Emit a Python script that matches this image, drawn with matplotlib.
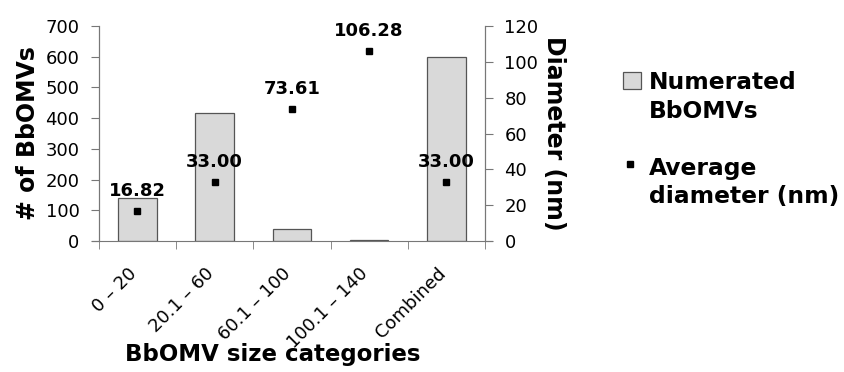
import matplotlib.pyplot as plt
import numpy as np
import matplotlib.transforms as mtransforms
from matplotlib.patches import Rectangle
from matplotlib.lines import Line2D
from matplotlib.ticker import FixedLocator, NullFormatter

categories = ['0 – 20', '20.1 – 60', '60.1 – 100', '100.1 – 140', 'Combined']
counts = [140, 418, 38, 2, 600]
diameters = [16.82, 33.00, 73.61, 106.28, 33.00]

bar_color = '#d9d9d9'
edge_color = '#555555'
axis_color = '#777777'

plt.rcParams['font.family'] = 'DejaVu Sans'

W, H = 845, 372
fig = plt.figure(figsize=(W / 100, H / 100), dpi=100)
ax = fig.add_axes([0.117, 0.352, 0.457, 0.578])
ax2 = ax.twinx()

x = np.arange(len(categories))
ax.bar(x, counts, width=0.5, color=bar_color, edgecolor=edge_color, linewidth=0.9, zorder=2)
ax.set_xlim(-0.5, len(categories) - 0.5)
ax.set_ylim(0, 700)
ax.set_yticks(range(0, 701, 100))

ax2.plot(x, diameters, 's', color='black', markersize=4)
ax2.set_ylim(0, 120)
ax2.set_yticks(range(0, 121, 20))
for xi, d in zip(x, diameters):
    ax2.annotate(f'{d:.2f}', (xi, d), textcoords='offset points', xytext=(0, 8),
                 ha='center', va='bottom', fontsize=13, fontweight='bold')

# category ticks: labels at centers, tick marks at boundaries
ax.set_xticks(x)
ax.set_xticklabels(categories, rotation=45, ha='right', va='top', rotation_mode='anchor', fontsize=13)
ax.tick_params(axis='x', which='major', length=0, pad=14)
shift = mtransforms.ScaledTranslation(-0.10, -0.04, fig.dpi_scale_trans)
for lbl in ax.get_xticklabels():
    lbl.set_transform(lbl.get_transform() + shift)
ax.xaxis.set_minor_locator(FixedLocator(np.arange(-0.5, len(categories), 1.0)))
ax.xaxis.set_minor_formatter(NullFormatter())
ax.tick_params(axis='x', which='minor', length=6, color=axis_color, direction='out')

for a in (ax, ax2):
    a.spines['top'].set_visible(False)
    for s in ('left', 'right', 'bottom'):
        a.spines[s].set_color(axis_color)
    a.tick_params(axis='y', labelsize=13, color=axis_color, length=6, pad=8)
# x axis line runs a little past both value axes
ax.spines['bottom'].set_bounds(-0.59, len(categories) - 0.41)
ax2.spines['bottom'].set_visible(False)

ax.set_ylabel('# of BbOMVs', fontsize=17, fontweight='bold', labelpad=4)
ax2.set_ylabel('Diameter (nm)', fontsize=17, fontweight='bold', rotation=270, labelpad=20)
ax.set_xlabel('BbOMV size categories', fontsize=16.5, fontweight='bold')
ax.xaxis.set_label_coords(0.45, -0.475)

# legend, handles aligned with the first line of each entry
fx = lambda px: px / W
fy = lambda py: 1 - py / H
lfont = dict(fontsize=16.8, fontweight='bold', va='baseline', ha='left')
fig.add_artist(Rectangle((fx(623), fy(89)), 18 / W, 17 / H, transform=fig.transFigure,
                         facecolor=bar_color, edgecolor=edge_color, linewidth=0.9))
fig.text(fx(649), fy(89), 'Numerated', **lfont)
fig.text(fx(649), fy(118), 'BbOMVs', **lfont)
fig.add_artist(Line2D([fx(630.5)], [fy(164.5)], marker='s', color='black', markersize=4,
                      linestyle='none', transform=fig.transFigure))
fig.text(fx(649), fy(175), 'Average', **lfont)
fig.text(fx(649), fy(203), 'diameter (nm)', **lfont)

fig.savefig('out.png', dpi=100)
